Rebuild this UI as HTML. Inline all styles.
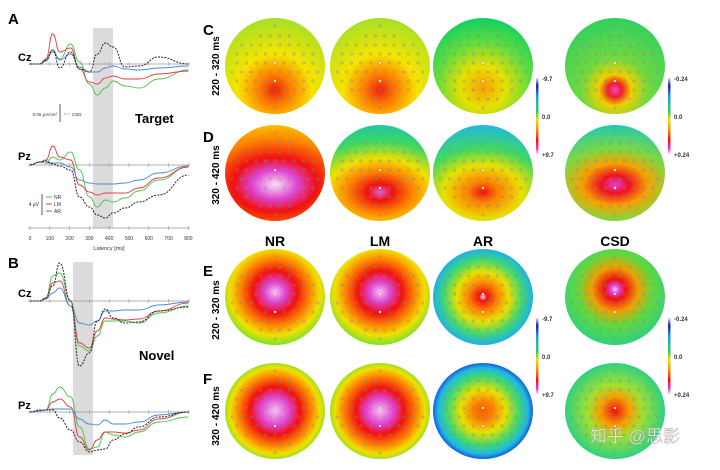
<!DOCTYPE html>
<html><head><meta charset="utf-8">
<style>
html,body{margin:0;padding:0;background:#fff;}
svg{display:block;font-family:"Liberation Sans","Noto Sans CJK SC",sans-serif;}
</style></head>
<body>
<svg id="fig" width="720" height="470" viewBox="0 0 720 470" xmlns="http://www.w3.org/2000/svg">
<defs id="defs"></defs>
<rect width="720" height="470" fill="#fff"/>
<rect x="93" y="28" width="20" height="200" fill="#dcdcdc"/>
<rect x="73" y="262" width="20" height="193" fill="#dcdcdc"/>
<g id="waves"></g>
<text x="8" y="24" font-size="15" font-weight="bold">A</text>
<text x="8" y="268" font-size="15" font-weight="bold">B</text>
<text x="18" y="61" font-size="11" font-weight="bold">Cz</text>
<text x="18" y="160" font-size="11" font-weight="bold">Pz</text>
<text x="18" y="297" font-size="11" font-weight="bold">Cz</text>
<text x="18" y="409" font-size="11" font-weight="bold">Pz</text>
<text x="135" y="123" font-size="13" font-weight="bold">Target</text>
<text x="139" y="360" font-size="13" font-weight="bold">Novel</text>
<g>
<line x1="60" y1="104" x2="60" y2="122" stroke="#333" stroke-width="0.8"/>
<text x="57" y="116" font-size="4.5" text-anchor="end" fill="#333">0.06 µV/cm²</text>
<line x1="64" y1="114" x2="70" y2="114" stroke="#333" stroke-width="0.6" stroke-dasharray="1.5,1"/>
<text x="72" y="116" font-size="4.5" fill="#333">CSD</text>
</g>
<g>
<line x1="42" y1="194" x2="42" y2="215" stroke="#333" stroke-width="0.8"/>
<text x="39" y="206" font-size="5" text-anchor="end" fill="#333">4 µV</text>
<line x1="46" y1="197" x2="52" y2="197" stroke="#50c050" stroke-width="1"/>
<text x="54" y="199" font-size="5" fill="#333">NR</text>
<line x1="46" y1="204" x2="52" y2="204" stroke="#e04040" stroke-width="1"/>
<text x="54" y="206" font-size="5" fill="#333">LM</text>
<line x1="46" y1="211" x2="52" y2="211" stroke="#4a8ad0" stroke-width="1"/>
<text x="54" y="213" font-size="5" fill="#333">AR</text>
</g>
<g id="xaxis"></g>
<text x="109" y="250" font-size="5.5" text-anchor="middle" fill="#333">Latency [ms]</text>

<g id="maps"></g>
<text x="203" y="35" font-size="15" font-weight="bold">C</text>
<text x="203" y="142" font-size="15" font-weight="bold">D</text>
<text x="203" y="276" font-size="15" font-weight="bold">E</text>
<text x="203" y="384" font-size="15" font-weight="bold">F</text>
<g font-size="10" font-weight="bold" text-anchor="middle">
<text transform="translate(219,66) rotate(-90)">220 - 320 ms</text>
<text transform="translate(219,175) rotate(-90)">320 - 420 ms</text>
<text transform="translate(219,310) rotate(-90)">220 - 320 ms</text>
<text transform="translate(219,416) rotate(-90)">320 - 420 ms</text>
</g>
<g font-size="14" font-weight="bold" text-anchor="middle">
<text x="275" y="246">NR</text>
<text x="380" y="246">LM</text>
<text x="483" y="246">AR</text>
<text x="615" y="246">CSD</text>
</g>
<g id="cbars"></g>
<text x="635" y="442" font-size="17" fill="#fff" fill-opacity="0.85" stroke="#888" stroke-width="0.3" text-anchor="middle">知乎 @思影</text>
</svg>
<script>
const NS="http://www.w3.org/2000/svg";
function mk(tag,attrs,parent){const e=document.createElementNS(NS,tag);for(const k in attrs)e.setAttribute(k,attrs[k]);parent.appendChild(e);return e;}
const times=[0,50,80,115,150,205,250,300,340,380,420,480,550,650,800];
const tickLabels=["0","100","200","300","400","500","600","700","800"];
const aCzNR=[0,0,3,12,5,20,2,-20,-31,-24,-17,-22,-24,-15,-6];
const aCzLM=[0,0,5,30,12,16,-5,-18,-20,-14,-12,-15,-15,-10,-7];
const aCzAR=[0,0,3,14,4,10,-3,-8,-8,-4,-2,-5,-6,-4,-2];
const aCzCSD=[0,0,4,14,-4,12,-5,-8,10,21,17,-3,-2,7,0];
const aPzNR=[0,3,2,8,5,13,-5,-32,-42,-35,-37,-33,-26,-15,-2];
const aPzLM=[0,3,5,19,8,5,-20,-27,-30,-28,-28,-28,-23,-13,-2];
const aPzAR=[0,3,2,2,2,-2,-15,-18,-19,-19,-19,-18,-15,-8,-1];
const aPzCSD=[0,3,4,1,-1,-5,-32,-42,-50,-53,-48,-43,-37,-30,-10];
const bCzNR=[0,0,3,25,28,0,-45,-50,-35,-20,-20,-20,-22,-12,-5];
const bCzLM=[0,0,3,18,20,-5,-42,-47,-30,-17,-18,-19,-18,-10,-2];
const bCzAR=[0,0,2,8,13,-5,-22,-24,-20,-10,-10,-9,-9,-4,-1];
const bCzCSD=[0,0,3,15,38,0,-65,-52,-20,-8,-17,-22,-21,-10,-6];
const bPzNR=[0,1,2,18,25,15,-15,-37,-35,-20,-23,-25,-20,-10,-5];
const bPzLM=[0,1,2,10,13,5,-25,-38,-28,-20,-20,-21,-18,-7,0];
const bPzAR=[0,1,2,3,3,3,-7,-12,-13,-8,-12,-12,-10,-3,0];
const bPzCSD=[0,2,2,2,-6,-18,-30,-40,-38,-37,-28,-22,-15,-5,0];
const xScale=t=>30+t*0.198;
const plots=[
 {base:64,series:[aCzNR,aCzLM,aCzAR,aCzCSD],name:"a-cz"},
 {base:165,series:[aPzNR,aPzLM,aPzAR,aPzCSD],name:"a-pz"},
 {base:301,series:[bCzNR,bCzLM,bCzAR,bCzCSD],name:"b-cz"},
 {base:412,series:[bPzNR,bPzLM,bPzAR,bPzCSD],name:"b-pz"}];
const cols=["#50c050","#e04040","#4a8ad0","#222"];
const snames=["nr","lm","ar","csd"];
const W=document.getElementById("waves");
plots.forEach(p=>{
  const bl=mk("line",{x1:28,x2:190,y1:p.base,y2:p.base,stroke:"#999","stroke-width":0.8},W);
  
  
  for(let i=0;i<=8;i++){mk("line",{x1:xScale(i*100),x2:xScale(i*100),y1:p.base-2,y2:p.base+2,stroke:"#999","stroke-width":0.6},W);}
  p.series.forEach((s,si)=>{
    const pts=s.map((v,i)=>[xScale(times[i]),p.base-v]);
    let d="M"+pts[0][0]+","+pts[0][1];
    for(let i=1;i<pts.length;i++){const p0=pts[i-1],p1=pts[i];const mx=(p0[0]+p1[0])/2;d+=" C"+mx+","+p0[1]+" "+mx+","+p1[1]+" "+p1[0]+","+p1[1];}
    const path=mk("path",{d:d,fill:"none",stroke:cols[si],"stroke-width":si==3?1:0.9,"stroke-dasharray":si==3?"2,1.2":"none"},W);
    
    
  });
});
const XA=document.getElementById("xaxis");
mk("line",{x1:28,x2:190,y1:228,y2:228,stroke:"#999","stroke-width":0.8},XA);
tickLabels.forEach((l,i)=>{
  mk("line",{x1:xScale(i*100),x2:xScale(i*100),y1:226,y2:230,stroke:"#999","stroke-width":0.6},XA);
  const t=mk("text",{x:xScale(i*100),y:240,"font-size":5,"text-anchor":"middle",fill:"#333"},XA);
  t.textContent=l;
  
  
});
const defs=document.getElementById("defs");
const M=document.getElementById("maps");
const colX=[275,380,483,615];
const rowY=[66,173,297,411];
const mapGrad=[
 [[0.5,0.75,1,[[0,"#e82010"],[0.2,"#ff7a00"],[0.5,"#f6e400"],[1,"#a6e028"]]],
  [0.5,0.75,1,[[0,"#e82010"],[0.2,"#ff7a00"],[0.5,"#f6e400"],[1,"#a6e028"]]],
  [0.5,0.72,1,[[0,"#f8a000"],[0.3,"#e8e000"],[0.65,"#60dc40"],[1,"#10d060"]]],
  [0.5,0.75,1,[[0,"#f040d0"],[0.1,"#f02020"],[0.22,"#f0d000"],[0.45,"#70d840"],[1,"#30d060"]]]],
 [[0.5,0.62,1.5,[[0,"#f8e0f8"],[0.25,"#e040d0"],[0.45,"#f01010"],[0.75,"#ff8000"],[1,"#f8c000"]]],
  [0.5,0.7,1.5,[[0,"#e060d0"],[0.12,"#f01010"],[0.3,"#ff8000"],[0.5,"#f0e000"],[0.75,"#40d860"],[1,"#20c8a0"]]],
  [0.5,0.7,1.4,[[0,"#f01010"],[0.15,"#ff8000"],[0.4,"#e8e000"],[0.65,"#40d860"],[1,"#20b8e0"]]],
  [0.5,0.62,1.5,[[0,"#e040d0"],[0.15,"#f01020"],[0.35,"#f8a000"],[0.6,"#80d840"],[1,"#20c8b0"]]]],
 [[0.5,0.45,1,[[0,"#f8c0f0"],[0.2,"#e040d0"],[0.4,"#f01010"],[0.62,"#ff8000"],[0.82,"#f0e000"],[1,"#80e030"]]],
  [0.5,0.45,1,[[0,"#f8c0f0"],[0.2,"#e040d0"],[0.4,"#f01010"],[0.62,"#ff8000"],[0.82,"#f0e000"],[1,"#80e030"]]],
  [0.5,0.5,1,[[0,"#f8e0f8"],[0.08,"#f01010"],[0.28,"#ff8000"],[0.52,"#e8e000"],[0.78,"#40d870"],[1,"#20b0e8"]]],
  [0.5,0.42,1,[[0,"#f8c0f8"],[0.08,"#e040d0"],[0.18,"#f01010"],[0.4,"#f0a000"],[0.65,"#60d840"],[1,"#30d080"]]]],
 [[0.5,0.5,1,[[0,"#f8c0f0"],[0.3,"#e040d0"],[0.5,"#f01010"],[0.72,"#ff8000"],[0.9,"#f0e000"],[1,"#a0e020"]]],
  [0.5,0.5,1,[[0,"#f8c0f0"],[0.28,"#e040d0"],[0.48,"#f01010"],[0.72,"#ff8000"],[0.9,"#f0e000"],[1,"#a0e020"]]],
  [0.5,0.5,1,[[0,"#f06000"],[0.2,"#ff8000"],[0.45,"#e8e000"],[0.72,"#40d870"],[0.9,"#20b8e0"],[1,"#1060e0"]]],
  [0.5,0.5,1,[[0,"#f01010"],[0.3,"#f8a000"],[0.55,"#a0e030"],[1,"#30d080"]]]]];
const colNames=["nr","lm","ar","csd"], rowNames=["c","d","e","f"];
rowY.forEach((cy,ri)=>colX.forEach((cx,ci)=>{
  const g=mapGrad[ri][ci];
  const id="g"+ri+ci;
  const r=0.5+Math.abs(g[1]-0.5);
  const rg=mk("radialGradient",{id:id,cx:g[0],cy:g[1],r:r,fx:g[0],fy:g[1],
    gradientTransform:"translate("+g[0]+","+g[1]+") scale("+g[2]+",1) translate("+(-g[0])+","+(-g[1])+")"},defs);
  g[3].forEach(s=>mk("stop",{offset:s[0],"stop-color":s[1]},rg));
  const grp=mk("g",{},M);
  
  
  mk("ellipse",{cx:cx,cy:cy,rx:50,ry:48,fill:"url(#"+id+")"},grp);
  const rows=[[-40,1],[-30,4],[-21,8],[-12,9],[-3,9],[6,10],[15,9],[24,7],[33,4],[42,1]];
  rows.forEach(rw=>{const n=rw[1];for(let k=0;k<n;k++){const x=cx+(k-(n-1)/2)*9.5;mk("circle",{cx:x,cy:cy+rw[0],r:1.2,fill:"none",stroke:"#888","stroke-width":0.5},grp);}});
  mk("circle",{cx:cx,cy:cy-3,r:1,fill:"#fff"},grp);
  mk("circle",{cx:cx,cy:cy+15,r:1,fill:"#fff"},grp);
}));
const CB=document.getElementById("cbars");
const cbDefs=[[536,78,"-9.7","0.0","+9.7"],[536,318,"-9.7","0.0","+9.7"],[668,78,"-0.24","0.0","+0.24"],[668,318,"-0.24","0.0","+0.24"]];
const cg=mk("linearGradient",{id:"cbg",x1:0,y1:0,x2:0,y2:1},defs);
[[0,"#e0e0f8"],[0.1,"#2020a0"],[0.25,"#20a0e0"],[0.45,"#30d060"],[0.55,"#f0e000"],[0.7,"#ff8000"],[0.82,"#f01010"],[0.93,"#e040d0"],[1,"#f8e0f8"]].forEach(s=>mk("stop",{offset:s[0],"stop-color":s[1]},cg));
cbDefs.forEach((c,i)=>{
  const g=mk("g",{},CB);
  
  
  mk("rect",{x:c[0],y:c[1],width:2.5,height:76,fill:"url(#cbg)"},g);
  [[c[2],c[1]+3],[c[3],c[1]+41],[c[4],c[1]+79]].forEach(l=>{const t=mk("text",{x:c[0]+6,y:l[1],"font-size":6,"font-weight":"bold",fill:"#333"},g);t.textContent=l[0];});
});
</script>
</body></html>
